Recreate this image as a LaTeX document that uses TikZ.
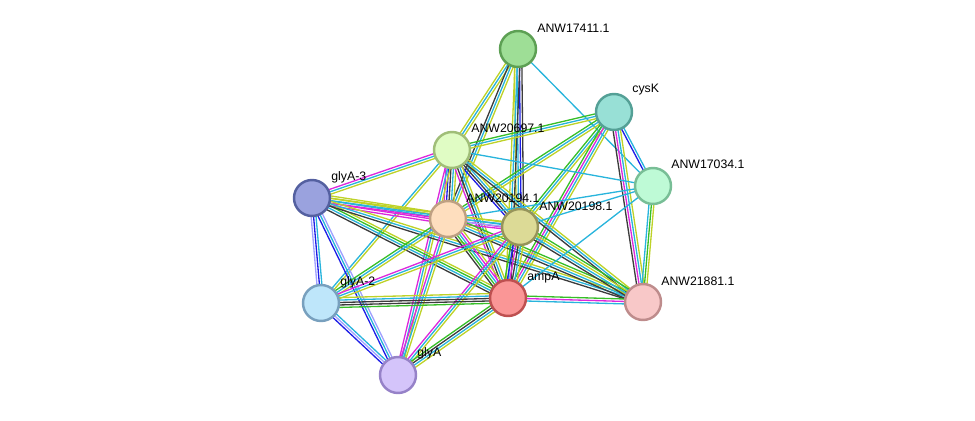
\documentclass[tikz,border=0pt]{standalone}
\usepackage{fontspec}
\setmainfont{Liberation Sans}
\usetikzlibrary{calc}
\usetikzlibrary{backgrounds}
\definecolor{sgreen}{RGB}{55,190,40}
\definecolor{sblack}{RGB}{60,60,60}
\definecolor{scyan}{RGB}{40,180,220}
\definecolor{syellow}{RGB}{190,210,40}
\definecolor{smag}{RGB}{220,40,220}
\definecolor{sblue}{RGB}{30,30,230}
\definecolor{spurple}{RGB}{160,160,255}
\tikzset{prot/.style={circle,minimum size=0.72cm,inner sep=0pt,line width=1.4pt}}
\tikzset{lbl/.style={font=\fontsize{7}{7}\selectfont,anchor=west,inner sep=0pt}}
% parallel lines between two nodes, one per colour
\newcommand{\ppi}[3]{%
  \foreach \c [count=\k] in {#3} {\xdef\nlines{\k}}%
  \foreach \c [count=\k] in {#3} {%
    \pgfmathsetmacro\off{(\k-(\nlines+1)/2)*1.4}%
    \draw[\c,line width=0.75pt] ($(#1)!\off pt!90:(#2)$) -- ($(#2)!\off pt!-90:(#1)$);}}

\begin{document}
\begin{tikzpicture}[x=0.02cm,y=-0.02cm]
          \useasboundingbox (0,0) rectangle (975,420);
          \node[prot,draw={rgb,255:red,93;green,160;blue,84},fill={rgb,255:red,158;green,222;blue,150}] (n17411) at (518,49) {};
          \node[prot,draw={rgb,255:red,84;green,160;blue,150},fill={rgb,255:red,152;green,224;blue,214}] (ncysK) at (614,112) {};
          \node[prot,draw={rgb,255:red,120;green,190;blue,150},fill={rgb,255:red,190;green,250;blue,214}] (n17034) at (653,186) {};
          \node[prot,draw={rgb,255:red,160;green,190;blue,120},fill={rgb,255:red,224;green,252;blue,196}] (n20697) at (452,150) {};
          \node[prot,draw={rgb,255:red,84;green,96;blue,160},fill={rgb,255:red,154;green,162;blue,222}] (nglyA3) at (312,198) {};
          \node[prot,draw={rgb,255:red,190;green,160;blue,130},fill={rgb,255:red,254;green,222;blue,190}] (n20194) at (448,219) {};
          \node[prot,draw={rgb,255:red,150;green,148;blue,90},fill={rgb,255:red,220;green,218;blue,150}] (n20198) at (520,227) {};
          \node[prot,draw={rgb,255:red,120;green,160;blue,190},fill={rgb,255:red,190;green,230;blue,250}] (nglyA2) at (321,303) {};
          \node[prot,draw={rgb,255:red,190;green,80;blue,80},fill={rgb,255:red,250;green,150;blue,150}] (nampA) at (508,298) {};
          \node[prot,draw={rgb,255:red,190;green,140;blue,140},fill={rgb,255:red,248;green,200;blue,200}] (n21881) at (643,302) {};
          \node[prot,draw={rgb,255:red,150;green,130;blue,200},fill={rgb,255:red,212;green,196;blue,250}] (nglyA) at (398,375) {};
          % labels
          \node[lbl] (l17411) at ($(n17411)+(19,-21)$) {ANW17411.1};
          \node[lbl] (lcysK) at ($(ncysK)+(18,-22)$) {cysK};
          \node[lbl] (l17034) at ($(n17034)+(18,-22)$) {ANW17034.1};
          \node[lbl] (l20697) at ($(n20697)+(19,-22)$) {ANW20697.1};
          \node[lbl] (lglyA3) at ($(nglyA3)+(19,-21)$) {glyA-3};
          \node[lbl] (l20194) at ($(n20194)+(18,-21)$) {ANW20194.1};
          \node[lbl] (l20198) at ($(n20198)+(19,-21)$) {ANW20198.1};
          \node[lbl] (lglyA2) at ($(nglyA2)+(19,-21)$) {glyA-2};
          \node[lbl] (lampA) at ($(nampA)+(19,-20)$) {ampA};
          \node[lbl] (l21881) at ($(n21881)+(18,-21)$) {ANW21881.1};
          \node[lbl] (lglyA) at ($(nglyA)+(19,-22)$) {glyA};
          \begin{scope}[on background layer]
            \ppi{n17411}{n20697}{syellow,scyan,syellow}
            \ppi{n17411}{n20194}{sblack,scyan,syellow}
            \ppi{n17411}{n20198}{syellow,scyan,sblue,sblack}
            \ppi{n17411}{nampA}{syellow,scyan,sblack}
            \ppi{n17411}{n17034}{scyan}
            \ppi{ncysK}{n20697}{sgreen,scyan,syellow}
            \ppi{ncysK}{n20194}{sgreen,scyan,syellow}
            \ppi{ncysK}{n20198}{sgreen,scyan,syellow}
            \ppi{ncysK}{nampA}{sgreen,smag,scyan,syellow}
            \ppi{ncysK}{n21881}{sblack,smag,scyan,syellow}
            \ppi{ncysK}{n17034}{sblue,scyan}
            \ppi{n20697}{nglyA3}{smag,scyan,syellow}
            \ppi{n20697}{n20194}{smag,sblue,sblack,scyan,syellow}
            \ppi{n20697}{n20198}{sblue,sblack,scyan,syellow}
            \ppi{n20697}{nampA}{smag,sblack,scyan,syellow}
            \ppi{n20697}{n21881}{sblack,scyan,syellow}
            \ppi{n20697}{nglyA2}{scyan,syellow}
            \ppi{n20697}{nglyA}{smag,scyan,syellow}
            \ppi{n20697}{n17034}{scyan}
            \ppi{nglyA3}{n20194}{smag,smag,scyan,syellow,syellow}
            \ppi{nglyA3}{n20198}{smag,scyan,syellow}
            \ppi{nglyA3}{nampA}{sblack,scyan,sgreen,syellow}
            \ppi{nglyA3}{n21881}{sblack,scyan,syellow}
            \ppi{nglyA3}{nglyA2}{spurple,sblue,scyan}
            \ppi{nglyA3}{nglyA}{sblue,scyan,spurple}
            \ppi{n20194}{n20198}{smag,spurple,scyan,syellow}
            \ppi{n20194}{nampA}{sblack,sgreen,scyan,smag,syellow}
            \ppi{n20194}{n21881}{sblack,scyan,syellow,sgreen}
            \ppi{n20194}{nglyA2}{sgreen,scyan,syellow}
            \ppi{n20194}{nglyA}{smag,scyan,syellow}
            \ppi{n20194}{n17034}{scyan}
            \ppi{n20198}{nampA}{sgreen,sblue,smag,sblack,scyan,syellow}
            \ppi{n20198}{n21881}{sblack,scyan,syellow,sgreen}
            \ppi{n20198}{nglyA2}{smag,scyan,syellow}
            \ppi{n20198}{nglyA}{smag,scyan,syellow}
            \ppi{n20198}{n17034}{scyan}
            \ppi{nglyA2}{nampA}{sgreen,sblack,sblack,scyan,syellow}
            \ppi{nglyA2}{nglyA}{sblue,spurple,scyan}
            \ppi{nampA}{n21881}{scyan,smag,sgreen}
            \ppi{nampA}{nglyA}{sgreen,sblack,scyan,syellow}
            \ppi{nampA}{n17034}{scyan}
            \ppi{n17034}{n21881}{scyan,sgreen,syellow}
          \end{scope}
        \end{tikzpicture}
\end{document}
